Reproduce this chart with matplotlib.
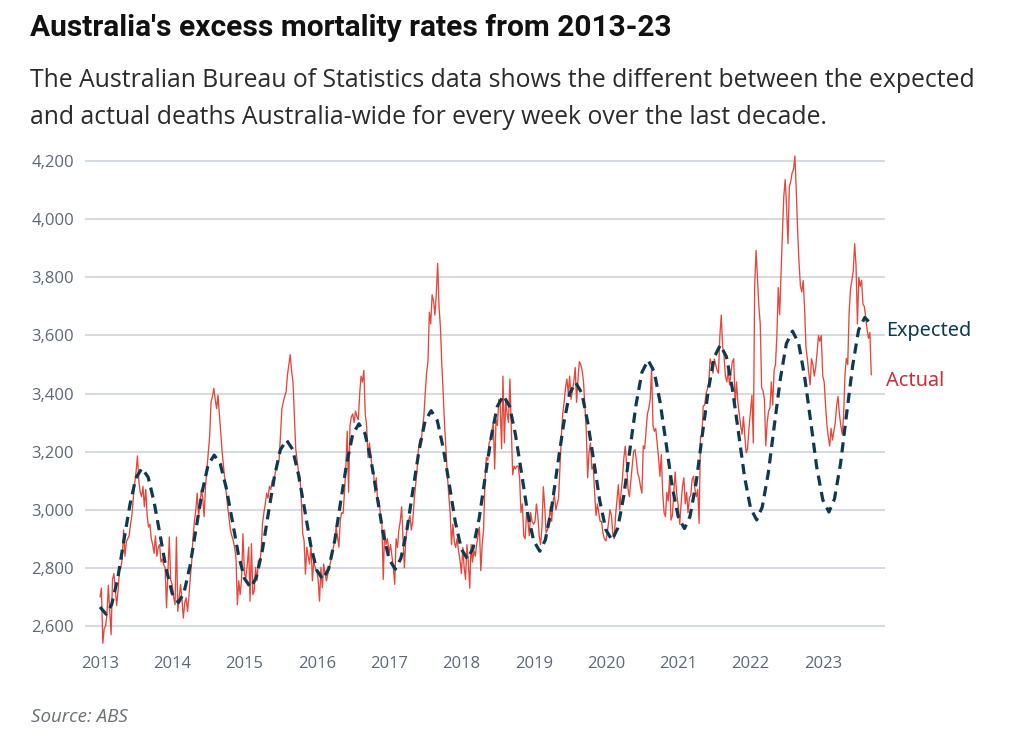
import pandas as pd
import matplotlib
matplotlib.use("Agg")
import matplotlib.pyplot as plt
import matplotlib.dates as mdates
from matplotlib.ticker import FuncFormatter

RED = "#e4483c"
LABEL_RED = "#c9303c"
NAVY = "#0e3a4f"
GRID = "#cdd4dc"
TICK = "#5c6876"

# ── Data (weekly deaths, Australia-wide) ──
years = list(range(2013, 2024))

actual_2013 = [2700, 2730, 2540, 2590, 2600, 2640, 2740, 2650, 2570, 2760, 2780, 2730, 2670,
               2720, 2790, 2800, 2830, 2930, 2840, 2890, 2900, 2910, 2950, 2980, 3040, 3090,
               3130, 3185, 3100, 3060, 3045, 3080, 3010, 3070, 2980, 2940, 2950, 2900, 2880,
               2850, 2910, 2840, 2870, 2880, 2820, 2830, 2810, 2800, 2662, 2780, 2906, 2760]
actual_2014 = [2740, 2700, 2673, 2906, 2650, 2700, 2743, 2690, 2627, 2680, 2697, 2650, 2700,
               2766, 2820, 2906, 2960, 3000, 3057, 2976, 3020, 3069, 3040, 2976, 3080, 3138,
               3200, 3255, 3371, 3390, 3418, 3380, 3348, 3394, 3330, 3266, 3200, 3150, 3100,
               3057, 3010, 2970, 2930, 2910, 2894, 2870, 2836, 2673, 2755, 2708, 2760, 2917]
actual_2015 = [2778, 2766, 2810, 2871, 2685, 2883, 2708, 2720, 2801, 2755, 2824, 2813, 2860,
               2952, 2990, 3020, 3057, 3040, 3080, 3070, 3100, 3103, 3120, 3150, 3160, 3173,
               3260, 3348, 3371, 3390, 3406, 3464, 3500, 3534, 3476, 3441, 3325, 3208, 3170,
               3130, 3115, 3034, 2917, 2894, 2778, 2871, 2840, 2813, 2883, 2755, 2824, 2801]
actual_2016 = [2790, 2760, 2685, 2801, 2731, 2813, 2780, 2755, 2778, 2801, 2820, 2848, 2870,
               2894, 2941, 2906, 2871, 2964, 2990, 2987, 3057, 3150, 3270, 3060, 3290, 3320,
               3330, 3300, 3340, 3320, 3310, 3400, 3460, 3440, 3480, 3330, 3290, 3180, 3230,
               3190, 3140, 3130, 3060, 3110, 3020, 3030, 2980, 2960, 2760, 2930, 2880, 2900]
actual_2017 = [2850, 2880, 2840, 2800, 2743, 2900, 2870, 2930, 2960, 3010, 2900, 2800, 2900,
               2940, 2964, 2980, 2930, 2960, 3030, 3080, 3130, 3200, 3240, 3230, 3280, 3320,
               3400, 3470, 3510, 3680, 3640, 3740, 3720, 3670, 3740, 3848, 3700, 3627, 3500,
               3400, 3290, 3210, 3120, 3050, 2990, 2880, 2950, 2890, 2870, 2900, 2860, 2830]
actual_2018 = [2780, 2870, 2800, 2760, 2880, 2820, 2730, 2880, 2820, 2860, 2840, 2880, 2910,
               2940, 2790, 2880, 2930, 3100, 3180, 3170, 3230, 3240, 3270, 3300, 3140, 3310,
               3290, 3380, 3360, 3210, 3460, 3230, 3380, 3330, 3300, 3450, 3280, 3120, 3150,
               3140, 3150, 3150, 3110, 2990, 3020, 2910, 2900, 2990, 2960, 2910, 2990, 2960]
actual_2019 = [2950, 2960, 3020, 2980, 2910, 2880, 2940, 3079, 3010, 2920, 2930, 2960, 3010,
               2960, 3030, 3050, 3000, 3020, 3040, 3149, 3254, 3330, 3370, 3420, 3450, 3400,
               3460, 3380, 3410, 3440, 3490, 3370, 3450, 3510, 3500, 3480, 3440, 3358, 3270,
               3110, 3200, 3230, 3140, 3150, 3060, 2980, 3020, 2990, 2960, 2960, 2920, 2900]
actual_2020 = [2893, 2920, 2960, 3000, 2980, 2918, 2900, 2980, 3034, 3086, 3000, 3060, 3110,
               3180, 3219, 3150, 3070, 3045, 3100, 3150, 3200, 3207, 3170, 3125, 3110, 3080,
               3057, 3220, 3210, 3270, 3330, 3350, 3380, 3485, 3290, 3270, 3280, 3230, 3180,
               3115, 3190, 3060, 2990, 2976, 3060, 3030, 3115, 2964, 2980, 3060, 3130, 3060]
actual_2021 = [3010, 2950, 3020, 3080, 3110, 3020, 3060, 2990, 3040, 3050, 3105, 3115, 3070,
               3045, 3070, 2953, 3253, 3250, 3358, 3360, 3400, 3415, 3440, 3519, 3500, 3470,
               3519, 3500, 3480, 3470, 3600, 3670, 3560, 3530, 3460, 3440, 3480, 3430, 3470,
               3510, 3520, 3360, 3440, 3370, 3330, 3290, 3260, 3320, 3254, 3196, 3210, 3280]
actual_2022 = [3340, 3394, 3230, 3780, 3893, 3800, 3700, 3640, 3420, 3410, 3380, 3220, 3300,
               3340, 3350, 3440, 3360, 3480, 3500, 3600, 3765, 3672, 3812, 3950, 4080, 4137,
               4044, 3916, 4113, 4130, 4160, 4171, 4218, 4100, 3960, 3850, 3770, 3750, 3789,
               3695, 3560, 3520, 3470, 3430, 3520, 3500, 3460, 3490, 3540, 3600, 3580, 3600]
actual_2023 = [3460, 3440, 3360, 3290, 3250, 3219, 3280, 3240, 3270, 3300, 3359, 3390, 3330,
               3290, 3260, 3320, 3463, 3521, 3500, 3680, 3760, 3790, 3823, 3916, 3840, 3640,
               3800, 3770, 3790, 3707, 3700, 3660, 3620, 3590, 3610, 3465]

# expected deaths, first of each month from Jan 2013 to Sep 2023
expected = [2665, 2640, 2674, 2766, 2892, 3017, 3109, 3143, 3112, 3027, 2911, 2796,
            2711, 2680, 2714, 2807, 2934, 3061, 3154, 3188, 3157, 3074, 2960, 2846,
            2763, 2732, 2766, 2859, 2986, 3113, 3206, 3240, 3208, 3120, 3000, 2880,
            2792, 2760, 2796, 2894, 3028, 3162, 3260, 3296, 3262, 3171, 3046, 2920,
            2829, 2795, 2832, 2932, 3068, 3205, 3304, 3341, 3307, 3213, 3086, 2958,
            2864, 2830, 2868, 2971, 3112, 3252, 3355, 3393, 3357, 3259, 3125, 2991,
            2893, 2857, 2896, 3002, 3148, 3293, 3399, 3438, 3402, 3302, 3167, 3031,
            2931, 2895, 2937, 3050, 3205, 3360, 3473, 3515, 3476, 3370, 3225, 3080,
            2974, 2935, 2977, 3093, 3251, 3409, 3525, 3567, 3527, 3417, 3266, 3116,
            3005, 2965, 3009, 3128, 3290, 3453, 3572, 3615, 3573, 3459, 3304, 3148,
            3034, 2992, 3037, 3160, 3328, 3496, 3619, 3662, 3640]

y_ticks = [2600, 2800, 3000, 3200, 3400, 3600, 3800, 4000, 4200]

title = "Australia's excess mortality rates from 2013-23"
subtitle = ("The Australian Bureau of Statistics data shows the different between the expected\n"
            "and actual deaths Australia-wide for every week over the last decade.")
source = "Source: ABS"

# ── Build series ──
actual_by_year = [actual_2013, actual_2014, actual_2015, actual_2016, actual_2017,
                  actual_2018, actual_2019, actual_2020, actual_2021, actual_2022,
                  actual_2023]
pieces = [pd.date_range(f"{y}-01-01", periods=len(v), freq="7D")
          for y, v in zip(years, actual_by_year)]
actual_dates = pieces[0].append(pieces[1:])
actual = [v for vals in actual_by_year for v in vals]
expected_dates = pd.date_range("2013-01-01", periods=len(expected), freq="MS")

# ── Figure ──
fig = plt.figure(figsize=(10.24, 7.55), dpi=100)
ax = fig.add_axes([0.083, 0.1364, 0.781, 0.6616])

ax.plot(actual_dates, actual, color=RED, linewidth=0.95, zorder=3)
ax.plot(expected_dates, expected, color=NAVY, linewidth=2.3,
        linestyle=(0, (3.2, 2.0)), zorder=4)

ax.set_ylim(2510, 4230)
ax.set_xlim(pd.Timestamp("2012-10-17"), pd.Timestamp("2023-11-10"))
ax.set_yticks(y_ticks)
ax.yaxis.set_major_formatter(FuncFormatter(lambda v, _: f"{v:,.0f}"))
ax.set_xticks([pd.Timestamp(f"{y}-01-01") for y in years])
ax.xaxis.set_major_formatter(mdates.DateFormatter("%Y"))

ax.grid(axis="y", color=GRID, linewidth=1.2)
ax.set_axisbelow(True)
for s in ax.spines.values():
    s.set_visible(False)
ax.tick_params(length=0, labelsize=12, labelcolor=TICK)
ax.tick_params(axis="y", pad=8)
ax.tick_params(axis="x", pad=3)
for lab in ax.get_xticklabels() + ax.get_yticklabels():
    lab.set_family("Open Sans")

# series labels at line ends
ax.annotate("Expected", xy=(expected_dates[-1], expected[-1]),
            xytext=(15, -7), textcoords="offset pixels", va="center",
            color=NAVY, fontsize=14.3, fontweight="semibold", family="Noto Sans")
ax.annotate("Actual", xy=(actual_dates[-1], actual[-1]),
            xytext=(15, -6), textcoords="offset pixels", va="center",
            color=LABEL_RED, fontsize=14.3, fontweight="semibold", family="Noto Sans")

fig.text(30 / 1024, 1 - 28 / 755, title, ha="left", va="center",
         fontsize=21.5, fontweight="bold", family="Roboto", color="#111111")
fig.text(30 / 1024, 1 - 99 / 755, subtitle, ha="left", va="center",
         fontsize=17.8, family="Open Sans", color="#2b2b2b", linespacing=1.68)
fig.text(31 / 1024, 1 - 717 / 755, source, ha="left", va="center",
         fontsize=13.5, style="italic", family="Open Sans", color="#6b6f75")

fig.savefig("out.png", dpi=100)
